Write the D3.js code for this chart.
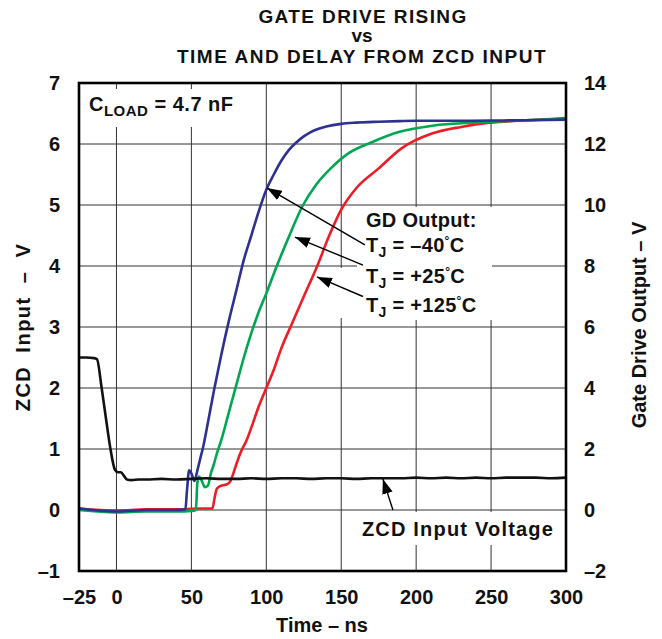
<!DOCTYPE html>
<html>
<head>
<meta charset="utf-8">
<script src="https://cdn.jsdelivr.net/npm/d3@7"></script>
<style>
  body { margin: 0; background: #fff; }
  svg { display: block; }
  text { font-family: "Liberation Sans", Arial, sans-serif; fill: #111; }
</style>
</head>
<body>
<svg width="662" height="639"></svg>
<script>
// ---- data ----
var timeTicks = [-25, 0, 50, 100, 150, 200, 250, 300];
var leftTicks = [-1, 0, 1, 2, 3, 4, 5, 6, 7];
var rightTicks = [-2, 0, 2, 4, 6, 8, 10, 12, 14];

// ZCD input, left axis (V)
var zcdTime = [-25, -20, -15, -13, -10, -7, -4, -1, 1, 3, 5, 7, 10, 15, 20, 30, 40, 50, 60, 70, 80, 90, 100, 110, 120, 130, 140, 150, 160, 170, 180, 190, 200, 210, 220, 230, 240, 250, 260, 270, 280, 290, 300];
var zcdVolt = [2.5, 2.5, 2.49, 2.47, 2.02, 1.5, 1.0, 0.66, 0.62, 0.62, 0.56, 0.5, 0.49, 0.5, 0.5, 0.51, 0.5, 0.51, 0.52, 0.51, 0.51, 0.52, 0.51, 0.52, 0.52, 0.51, 0.52, 0.52, 0.51, 0.52, 0.52, 0.52, 0.53, 0.52, 0.53, 0.52, 0.53, 0.52, 0.53, 0.53, 0.53, 0.52, 0.53];

// gate drive output, right axis (V)
var gdColdTime = [-25, 0, 20, 40, 46, 47, 48.5, 50, 52, 54, 56, 58, 60, 65, 70, 75, 80, 85, 90, 95, 100, 105, 110, 115, 120, 125, 130, 140, 150, 160, 175, 189, 200, 225, 250, 275, 300];
var gdColdVolt = [0.05, -0.05, 0, 0, 0.02, 0.6, 1.3, 1.2, 0.95, 1.3, 1.7, 2.1, 2.6, 3.9, 5.1, 6.2, 7.2, 8.2, 9.0, 9.8, 10.5, 11.0, 11.45, 11.8, 12.05, 12.25, 12.4, 12.57, 12.66, 12.7, 12.73, 12.75, 12.76, 12.76, 12.77, 12.78, 12.8];

var gdRoomTime = [-25, 0, 20, 40, 50, 53, 54, 55, 57, 59, 61, 63, 65, 67, 70, 75, 80, 85, 90, 95, 100, 107, 115, 124, 133, 143, 155, 170, 189, 211, 230, 249, 270, 285, 300];
var gdRoomVolt = [0.0, -0.08, -0.05, -0.05, -0.03, 0, 0.9, 1.1, 0.95, 0.75, 0.8, 1.2, 1.5, 1.85, 2.3, 3.2, 4.1, 5.0, 5.8, 6.5, 7.1, 8.0, 8.95, 9.95, 10.65, 11.2, 11.7, 12.05, 12.4, 12.6, 12.68, 12.73, 12.77, 12.8, 12.82];

var gdHotTime = [-25, 0, 20, 40, 55, 64, 65.5, 67, 70, 72, 74, 76, 78, 80, 83, 87, 90, 95, 100, 105, 110, 117, 125, 134, 142, 150, 160, 175, 190, 211, 230, 249, 270, 290, 300];
var gdHotVolt = [0.05, -0.02, 0.02, 0.02, 0.05, 0.05, 0.4, 0.7, 0.8, 0.82, 0.85, 0.95, 1.2, 1.5, 1.9, 2.3, 2.7, 3.4, 4.0, 4.6, 5.3, 6.1, 7.0, 8.0, 9.0, 9.85, 10.55, 11.2, 11.85, 12.35, 12.56, 12.7, 12.77, 12.82, 12.85];

var svg = d3.select("svg");

var x = d3.scaleLinear().domain([-25, 300]).range([79, 566]),
    yL = d3.scaleLinear().domain([-1, 7]).range([571, 83]),
    yR = d3.scaleLinear().domain([-2, 14]).range([571, 83]);

function fmt(d) { return d < 0 ? "\u2013" + Math.abs(d) : d; }

// title
var title = svg.append("g").attr("font-weight", "bold").attr("font-size", "19px").attr("text-anchor", "middle");
title.append("text").attr("x", 363).attr("y", 23).attr("letter-spacing", "1.4px").text("GATE DRIVE RISING");
title.append("text").attr("x", 362).attr("y", 42).text("vs");
title.append("text").attr("x", 362).attr("y", 63).attr("letter-spacing", "1.5px").text("TIME AND DELAY FROM ZCD INPUT");

// grid
var grid = svg.append("g").attr("stroke", "#333").attr("stroke-width", 1);
grid.selectAll(".vg")
    .data(timeTicks.filter(function(d) { return d > -25 && d < 300; }))
    .enter().append("line")
    .attr("x1", function(d) { return x(d); })
    .attr("x2", function(d) { return x(d); })
    .attr("y1", yL(7)).attr("y2", yL(-1));
grid.selectAll(".hg")
    .data(leftTicks.filter(function(d) { return d > -1 && d < 7; }))
    .enter().append("line")
    .attr("y1", function(d) { return yL(d); })
    .attr("y2", function(d) { return yL(d); })
    .attr("x1", x(-25)).attr("x2", x(300));

// white patches behind annotations
var patches = [[80, 89, 165, 38], [357, 207, 135, 113], [330, 268, 27, 50], [358, 512, 198, 33]];
svg.append("g").selectAll("rect").data(patches).enter().append("rect")
   .attr("x", function(d) { return d[0]; })
   .attr("y", function(d) { return d[1]; })
   .attr("width", function(d) { return d[2]; })
   .attr("height", function(d) { return d[3]; })
   .attr("fill", "#fff");

// curves
var lineL = d3.line().curve(d3.curveMonotoneX)
    .x(function(d) { return x(d[0]); }).y(function(d) { return yL(d[1]); });
var lineR = d3.line().curve(d3.curveMonotoneX)
    .x(function(d) { return x(d[0]); }).y(function(d) { return yR(d[1]); });

function pairs(t, v) { return t.map(function(d, i) { return [d, v[i]]; }); }

var series = [
  { data: pairs(gdHotTime, gdHotVolt), color: "#ee1c25" },
  { data: pairs(gdRoomTime, gdRoomVolt), color: "#00a651" },
  { data: pairs(gdColdTime, gdColdVolt), color: "#2e3192" }
];

svg.append("g").selectAll("path").data(series).enter().append("path")
   .attr("d", function(d) { return lineR(d.data); })
   .attr("fill", "none")
   .attr("stroke", function(d) { return d.color; })
   .attr("stroke-width", 2.6)
   .attr("stroke-linejoin", "round");

svg.append("path")
   .attr("d", lineL(pairs(zcdTime, zcdVolt)))
   .attr("fill", "none")
   .attr("stroke", "#111")
   .attr("stroke-width", 2.6)
   .attr("stroke-linejoin", "round");

// frame
svg.append("rect")
   .attr("x", x(-25)).attr("y", yL(7))
   .attr("width", x(300) - x(-25)).attr("height", yL(-1) - yL(7))
   .attr("fill", "none").attr("stroke", "#000").attr("stroke-width", 2.6);

// axes
var xAxis = svg.append("g")
   .attr("transform", "translate(0," + 604 + ")")
   .call(d3.axisBottom(x).tickValues(timeTicks).tickSize(0).tickFormat(fmt));
var lAxis = svg.append("g")
   .attr("transform", "translate(60,0)")
   .call(d3.axisLeft(yL).tickValues(leftTicks).tickSize(0).tickPadding(0).tickFormat(fmt));
var rAxis = svg.append("g")
   .attr("transform", "translate(584,0)")
   .call(d3.axisRight(yR).tickValues(rightTicks).tickSize(0).tickPadding(0).tickFormat(fmt));
[xAxis, lAxis, rAxis].forEach(function(a) {
  a.select(".domain").remove();
  a.selectAll("text").attr("font-family", "Liberation Sans, Arial, sans-serif")
   .attr("font-size", "20px").attr("font-weight", "bold").attr("fill", "#111");
});
xAxis.selectAll("text").attr("dy", 0).attr("y", 0);

// axis titles
svg.append("text")
   .attr("transform", "translate(30,327) rotate(-90)")
   .attr("text-anchor", "middle").attr("font-size", "20px").attr("font-weight", "bold")
   .attr("letter-spacing", "1.5px").attr("word-spacing", "6px")
   .text("ZCD Input \u2013 V");
svg.append("text")
   .attr("transform", "translate(646,325) rotate(-90)")
   .attr("text-anchor", "middle").attr("font-size", "20px").attr("font-weight", "bold")
   .text("Gate Drive Output \u2013 V");
svg.append("text")
   .attr("x", 322).attr("y", 632)
   .attr("text-anchor", "middle").attr("font-size", "20px").attr("font-weight", "bold")
   .text("Time \u2013 ns");

// C_LOAD label
var cl = svg.append("text").attr("x", 89).attr("y", 111).attr("font-size", "20px").attr("font-weight", "bold")
   .attr("letter-spacing", "0.5px");
cl.append("tspan").text("C");
cl.append("tspan").attr("font-size", "15px").attr("dy", 5).text("LOAD");
cl.append("tspan").attr("dy", -5).text(" = 4.7 nF");

// arrows
svg.append("defs").append("marker")
   .attr("id", "head").attr("viewBox", "0 0 14 10")
   .attr("refX", 14).attr("refY", 5)
   .attr("markerWidth", 15).attr("markerHeight", 11)
   .attr("markerUnits", "userSpaceOnUse").attr("orient", "auto")
   .append("path").attr("d", "M0,0L14,5L0,10Z").attr("fill", "#000");

var arrows = [
  { from: [165.8, 8.69], to: [100.4, 10.56], axis: "R" },
  { from: [164.5, 8.03], to: [119.1, 8.95], axis: "R" },
  { from: [164.5, 7.0], to: [133.8, 7.64], axis: "R" },
  { from: [184.5, 0.0], to: [177.8, 0.51], axis: "L" }
];
svg.append("g").selectAll("line").data(arrows).enter().append("line")
   .attr("x1", function(d) { return x(d.from[0]); })
   .attr("y1", function(d) { return (d.axis == "R" ? yR : yL)(d.from[1]); })
   .attr("x2", function(d) { return x(d.to[0]); })
   .attr("y2", function(d) { return (d.axis == "R" ? yR : yL)(d.to[1]); })
   .attr("stroke", "#000").attr("stroke-width", 1.4)
   .attr("marker-end", "url(#head)");

// legend text
var leg = svg.append("g").attr("font-size", "20px").attr("font-weight", "bold");
leg.append("text").attr("x", 366).attr("y", 227).attr("letter-spacing", "0.3px").text("GD Output:");
var tjLabels = ["\u201340", "+25", "+125"];
var tjY = [252, 283, 312];
tjLabels.forEach(function(s, i) {
  var t = leg.append("text").attr("x", 366).attr("y", tjY[i]).attr("letter-spacing", "0.3px");
  t.append("tspan").text("T");
  t.append("tspan").attr("font-size", "14px").attr("dy", 5).text("J");
  t.append("tspan").attr("dy", -5).text(" = " + s);
  t.append("tspan").attr("font-size", "12px").attr("dy", -7).text("\u00b0");
  t.append("tspan").attr("dy", 7).text("C");
});

svg.append("text").attr("x", 458).attr("y", 536)
   .attr("text-anchor", "middle").attr("font-size", "20px").attr("font-weight", "bold")
   .attr("letter-spacing", "1.2px")
   .text("ZCD Input Voltage");
</script>
</body>
</html>
